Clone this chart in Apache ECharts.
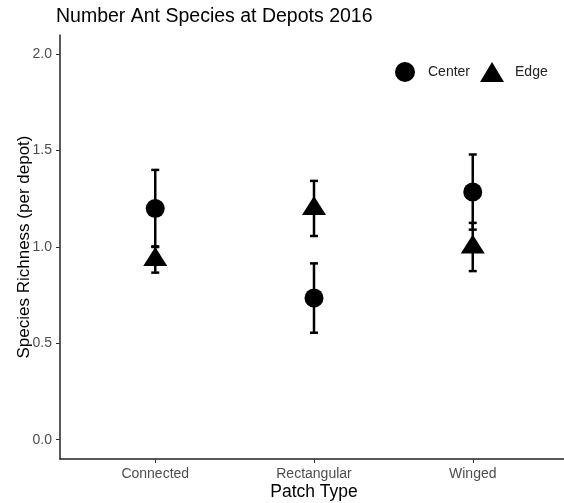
<!DOCTYPE html>
<html>
<head>
<meta charset="utf-8">
<script src="https://cdn.jsdelivr.net/npm/echarts@6/dist/echarts.min.js"></script>
<style>
  html, body { margin: 0; padding: 0; background: #fff; }
  #chart { width: 564px; height: 503px; }
</style>
</head>
<body>
<div id="chart"></div>
<script>
var categories = ["Connected", "Rectangular", "Winged"];
var centerMean = [1.20, 0.735, 1.285];
var centerErr = [0.20, 0.18, 0.195];
var edgeMean = [0.935, 1.20, 1.00];
var edgeErr = [0.068, 0.143, 0.125];
var yTicks = [0, 0.5, 1, 1.5, 2];

var FONT = "Liberation Sans";

function points(means) {
    return means.map((m, i) => [i + 1, m]);
}

function bars(means, errs) {
    return means.map((m, i) => [i + 1, m - errs[i], m + errs[i]]);
}

// errorbar drawn as line + two caps
function renderErr(params, api) {
    var x = api.value(0);
    var lo = api.coord([x, api.value(1)]);
    var hi = api.coord([x, api.value(2)]);
    var cap = 4;
    var st = { stroke: "#000", lineWidth: 2.5 };
    return {
        type: "group",
        children: [
            { type: "line", shape: { x1: lo[0], y1: lo[1], x2: hi[0], y2: hi[1] }, style: st },
            { type: "line", shape: { x1: lo[0] - cap, y1: lo[1], x2: lo[0] + cap, y2: lo[1] }, style: st },
            { type: "line", shape: { x1: hi[0] - cap, y1: hi[1], x2: hi[0] + cap, y2: hi[1] }, style: st }
        ]
    };
}

var myChart = echarts.init(document.getElementById("chart"));
var option = {
    animation: false,
    backgroundColor: "#fff",
    title: {
        text: "Number Ant Species at Depots 2016",
        left: 51,
        top: 2,
        textStyle: { fontFamily: FONT, fontSize: 19.5, fontWeight: "normal", color: "#000" }
    },
    legend: {
        data: [
            { name: "Center", icon: "circle" },
            { name: "Edge", icon: "triangle" }
        ],
        left: 390,
        top: 57,
        itemWidth: 24,
        itemHeight: 20,
        itemGap: 10,
        textStyle: { fontFamily: FONT, fontSize: 14, color: "#222", padding: [0, 0, 0, 6] }
    },
    grid: { left: 60, top: 35, width: 508, height: 424, containLabel: false, outerBoundsMode: "none" },
    xAxis: {
        type: "value",
        min: 0.4,
        max: 3.6,
        name: "Patch Type",
        nameLocation: "middle",
        nameGap: 24,
        nameMoveOverlap: false,
        nameTextStyle: { fontFamily: FONT, fontSize: 17.5, color: "#000" },
        splitLine: { show: false },
        axisLine: { onZero: false, lineStyle: { color: "#222", width: 1.5 } },
        axisTick: { customValues: [1, 2, 3], length: 4, lineStyle: { color: "#333" } },
        axisLabel: {
            customValues: [1, 2, 3],
            formatter: v => categories[Math.round(v) - 1],
            fontFamily: FONT,
            fontSize: 14,
            color: "#4d4d4d",
            margin: 8
        }
    },
    yAxis: {
        type: "value",
        min: -0.1,
        max: 2.1,
        name: "Species Richness (per depot)",
        nameLocation: "middle",
        nameGap: 27,
        nameMoveOverlap: false,
        nameTextStyle: { fontFamily: FONT, fontSize: 17, color: "#000" },
        splitLine: { show: false },
        axisLine: { show: true, onZero: false, lineStyle: { color: "#222", width: 1.5 } },
        axisTick: { show: true, customValues: yTicks, length: 4, lineStyle: { color: "#333" } },
        axisLabel: {
            customValues: yTicks,
            formatter: v => v.toFixed(1),
            fontFamily: FONT,
            fontSize: 14,
            color: "#4d4d4d",
            margin: 8
        }
    },
    series: [
        {
            name: "errCenter",
            type: "custom",
            renderItem: renderErr,
            data: bars(centerMean, centerErr),
            encode: { x: 0, y: [1, 2] },
            z: 1
        },
        {
            name: "errEdge",
            type: "custom",
            renderItem: renderErr,
            data: bars(edgeMean, edgeErr),
            encode: { x: 0, y: [1, 2] },
            z: 1
        },
        {
            name: "Center",
            type: "scatter",
            symbol: "circle",
            symbolSize: 19,
            itemStyle: { color: "#000", opacity: 1 },
            data: points(centerMean),
            z: 3
        },
        {
            name: "Edge",
            type: "scatter",
            symbol: "triangle",
            symbolSize: [24, 19],
            symbolOffset: [0, -3],
            itemStyle: { color: "#000", opacity: 1 },
            data: points(edgeMean),
            z: 3
        }
    ]
};
myChart.setOption(option);
</script>
</body>
</html>
